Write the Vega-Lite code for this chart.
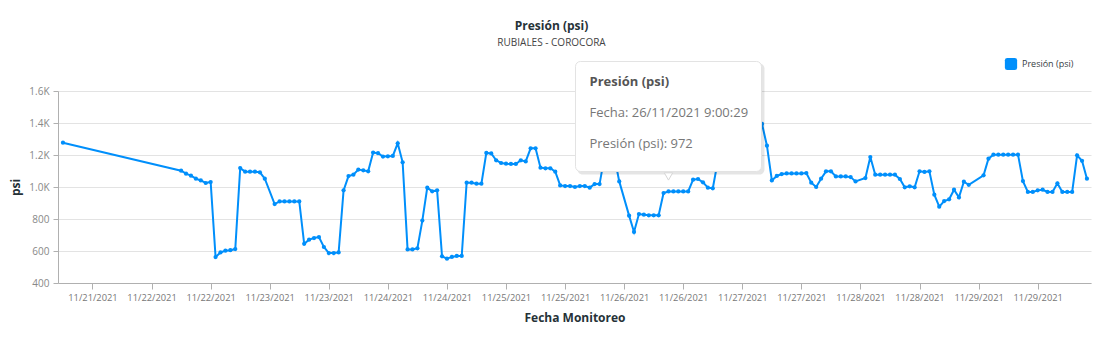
{
  "$schema": "https://vega.github.io/schema/vega-lite/v6.json",
  "width": 1033,
  "height": 192,
  "autosize": {"type": "none"},
  "padding": {"left": 58, "top": 91, "right": 10, "bottom": 78},
  "background": "white",
  "config": {
    "font": "Open Sans",
    "view": {"stroke": null}
  },
  "title": {
    "text": "Presión (psi)",
    "subtitle": "RUBIALES - COROCORA",
    "anchor": "middle",
    "dx": -23,
    "fontSize": 12,
    "fontWeight": "bold",
    "color": "#263238",
    "subtitleFontSize": 10,
    "subtitleColor": "#444444",
    "subtitlePadding": 5,
    "offset": 8
  },
  "data": {
    "values": [
      {"Fecha": "2021-11-21T06:00:29", "psi": 1277},
      {"Fecha": "2021-11-22T06:00:29", "psi": 1102},
      {"Fecha": "2021-11-22T07:00:29", "psi": 1083},
      {"Fecha": "2021-11-22T08:00:29", "psi": 1071},
      {"Fecha": "2021-11-22T09:00:29", "psi": 1052},
      {"Fecha": "2021-11-22T10:00:29", "psi": 1041},
      {"Fecha": "2021-11-22T11:00:29", "psi": 1025},
      {"Fecha": "2021-11-22T12:00:29", "psi": 1031},
      {"Fecha": "2021-11-22T13:00:29", "psi": 562},
      {"Fecha": "2021-11-22T14:00:29", "psi": 591},
      {"Fecha": "2021-11-22T15:00:29", "psi": 602},
      {"Fecha": "2021-11-22T16:00:29", "psi": 605},
      {"Fecha": "2021-11-22T17:00:29", "psi": 612},
      {"Fecha": "2021-11-22T18:00:29", "psi": 1118},
      {"Fecha": "2021-11-22T19:00:29", "psi": 1096},
      {"Fecha": "2021-11-22T20:00:29", "psi": 1096},
      {"Fecha": "2021-11-22T21:00:29", "psi": 1096},
      {"Fecha": "2021-11-22T22:00:29", "psi": 1092},
      {"Fecha": "2021-11-22T23:00:29", "psi": 1052},
      {"Fecha": "2021-11-23T01:00:29", "psi": 893},
      {"Fecha": "2021-11-23T02:00:29", "psi": 910},
      {"Fecha": "2021-11-23T03:00:29", "psi": 910},
      {"Fecha": "2021-11-23T04:00:29", "psi": 910},
      {"Fecha": "2021-11-23T05:00:29", "psi": 910},
      {"Fecha": "2021-11-23T06:00:29", "psi": 910},
      {"Fecha": "2021-11-23T07:00:29", "psi": 645},
      {"Fecha": "2021-11-23T08:00:29", "psi": 671},
      {"Fecha": "2021-11-23T09:00:29", "psi": 681},
      {"Fecha": "2021-11-23T10:00:29", "psi": 687},
      {"Fecha": "2021-11-23T11:00:29", "psi": 625},
      {"Fecha": "2021-11-23T12:00:29", "psi": 587},
      {"Fecha": "2021-11-23T13:00:29", "psi": 587},
      {"Fecha": "2021-11-23T14:00:29", "psi": 591},
      {"Fecha": "2021-11-23T15:00:29", "psi": 979},
      {"Fecha": "2021-11-23T16:00:29", "psi": 1068},
      {"Fecha": "2021-11-23T17:00:29", "psi": 1077},
      {"Fecha": "2021-11-23T18:00:29", "psi": 1109},
      {"Fecha": "2021-11-23T19:00:29", "psi": 1104},
      {"Fecha": "2021-11-23T20:00:29", "psi": 1098},
      {"Fecha": "2021-11-23T21:00:29", "psi": 1215},
      {"Fecha": "2021-11-23T22:00:29", "psi": 1211},
      {"Fecha": "2021-11-23T23:00:29", "psi": 1190},
      {"Fecha": "2021-11-24T00:00:29", "psi": 1192},
      {"Fecha": "2021-11-24T01:00:29", "psi": 1194},
      {"Fecha": "2021-11-24T02:00:29", "psi": 1273},
      {"Fecha": "2021-11-24T03:00:29", "psi": 1154},
      {"Fecha": "2021-11-24T04:00:29", "psi": 610},
      {"Fecha": "2021-11-24T05:00:29", "psi": 610},
      {"Fecha": "2021-11-24T06:00:29", "psi": 617},
      {"Fecha": "2021-11-24T07:00:29", "psi": 790},
      {"Fecha": "2021-11-24T08:00:29", "psi": 996},
      {"Fecha": "2021-11-24T09:00:29", "psi": 973},
      {"Fecha": "2021-11-24T10:00:29", "psi": 979},
      {"Fecha": "2021-11-24T11:00:29", "psi": 567},
      {"Fecha": "2021-11-24T12:00:29", "psi": 552},
      {"Fecha": "2021-11-24T13:00:29", "psi": 563},
      {"Fecha": "2021-11-24T14:00:29", "psi": 569},
      {"Fecha": "2021-11-24T15:00:29", "psi": 569},
      {"Fecha": "2021-11-24T16:00:29", "psi": 1027},
      {"Fecha": "2021-11-24T17:00:29", "psi": 1027},
      {"Fecha": "2021-11-24T18:00:29", "psi": 1021},
      {"Fecha": "2021-11-24T19:00:29", "psi": 1021},
      {"Fecha": "2021-11-24T20:00:29", "psi": 1213},
      {"Fecha": "2021-11-24T21:00:29", "psi": 1210},
      {"Fecha": "2021-11-24T22:00:29", "psi": 1167},
      {"Fecha": "2021-11-24T23:00:29", "psi": 1150},
      {"Fecha": "2021-11-25T00:00:29", "psi": 1146},
      {"Fecha": "2021-11-25T01:00:29", "psi": 1144},
      {"Fecha": "2021-11-25T02:00:29", "psi": 1144},
      {"Fecha": "2021-11-25T03:00:29", "psi": 1167},
      {"Fecha": "2021-11-25T04:00:29", "psi": 1160},
      {"Fecha": "2021-11-25T05:00:29", "psi": 1242},
      {"Fecha": "2021-11-25T06:00:29", "psi": 1242},
      {"Fecha": "2021-11-25T07:00:29", "psi": 1121},
      {"Fecha": "2021-11-25T08:00:29", "psi": 1117},
      {"Fecha": "2021-11-25T09:00:29", "psi": 1117},
      {"Fecha": "2021-11-25T10:00:29", "psi": 1096},
      {"Fecha": "2021-11-25T11:00:29", "psi": 1010},
      {"Fecha": "2021-11-25T12:00:29", "psi": 1006},
      {"Fecha": "2021-11-25T13:00:29", "psi": 1006},
      {"Fecha": "2021-11-25T14:00:29", "psi": 1000},
      {"Fecha": "2021-11-25T15:00:29", "psi": 1006},
      {"Fecha": "2021-11-25T16:00:29", "psi": 1006},
      {"Fecha": "2021-11-25T17:00:29", "psi": 996},
      {"Fecha": "2021-11-25T18:00:29", "psi": 1018},
      {"Fecha": "2021-11-25T19:00:29", "psi": 1018},
      {"Fecha": "2021-11-25T20:00:29", "psi": 1190},
      {"Fecha": "2021-11-25T21:00:29", "psi": 1210},
      {"Fecha": "2021-11-25T22:00:29", "psi": 1190},
      {"Fecha": "2021-11-25T23:00:29", "psi": 1035},
      {"Fecha": "2021-11-26T01:00:29", "psi": 821},
      {"Fecha": "2021-11-26T02:00:29", "psi": 719},
      {"Fecha": "2021-11-26T03:00:29", "psi": 831},
      {"Fecha": "2021-11-26T04:00:29", "psi": 827},
      {"Fecha": "2021-11-26T05:00:29", "psi": 823},
      {"Fecha": "2021-11-26T06:00:29", "psi": 823},
      {"Fecha": "2021-11-26T07:00:29", "psi": 823},
      {"Fecha": "2021-11-26T08:00:29", "psi": 962},
      {"Fecha": "2021-11-26T09:00:29", "psi": 972},
      {"Fecha": "2021-11-26T10:00:29", "psi": 972},
      {"Fecha": "2021-11-26T11:00:29", "psi": 972},
      {"Fecha": "2021-11-26T12:00:29", "psi": 972},
      {"Fecha": "2021-11-26T13:00:29", "psi": 972},
      {"Fecha": "2021-11-26T14:00:29", "psi": 1046},
      {"Fecha": "2021-11-26T15:00:29", "psi": 1050},
      {"Fecha": "2021-11-26T16:00:29", "psi": 1029},
      {"Fecha": "2021-11-26T17:00:29", "psi": 996},
      {"Fecha": "2021-11-26T18:00:29", "psi": 992},
      {"Fecha": "2021-11-26T19:00:29", "psi": 1160},
      {"Fecha": "2021-11-26T20:00:29", "psi": 1240},
      {"Fecha": "2021-11-26T21:00:29", "psi": 1300},
      {"Fecha": "2021-11-26T22:00:29", "psi": 1330},
      {"Fecha": "2021-11-26T23:00:29", "psi": 1350},
      {"Fecha": "2021-11-27T00:00:29", "psi": 1370},
      {"Fecha": "2021-11-27T01:00:29", "psi": 1390},
      {"Fecha": "2021-11-27T02:00:29", "psi": 1400},
      {"Fecha": "2021-11-27T03:00:29", "psi": 1410},
      {"Fecha": "2021-11-27T04:00:29", "psi": 1394},
      {"Fecha": "2021-11-27T05:00:29", "psi": 1258},
      {"Fecha": "2021-11-27T06:00:29", "psi": 1041},
      {"Fecha": "2021-11-27T07:00:29", "psi": 1069},
      {"Fecha": "2021-11-27T08:00:29", "psi": 1081},
      {"Fecha": "2021-11-27T09:00:29", "psi": 1085},
      {"Fecha": "2021-11-27T10:00:29", "psi": 1085},
      {"Fecha": "2021-11-27T11:00:29", "psi": 1085},
      {"Fecha": "2021-11-27T12:00:29", "psi": 1085},
      {"Fecha": "2021-11-27T13:00:29", "psi": 1087},
      {"Fecha": "2021-11-27T14:00:29", "psi": 1027},
      {"Fecha": "2021-11-27T15:00:29", "psi": 1000},
      {"Fecha": "2021-11-27T16:00:29", "psi": 1052},
      {"Fecha": "2021-11-27T17:00:29", "psi": 1098},
      {"Fecha": "2021-11-27T18:00:29", "psi": 1098},
      {"Fecha": "2021-11-27T19:00:29", "psi": 1066},
      {"Fecha": "2021-11-27T20:00:29", "psi": 1066},
      {"Fecha": "2021-11-27T21:00:29", "psi": 1066},
      {"Fecha": "2021-11-27T22:00:29", "psi": 1062},
      {"Fecha": "2021-11-27T23:00:29", "psi": 1035},
      {"Fecha": "2021-11-28T01:00:29", "psi": 1056},
      {"Fecha": "2021-11-28T02:00:29", "psi": 1187},
      {"Fecha": "2021-11-28T03:00:29", "psi": 1077},
      {"Fecha": "2021-11-28T04:00:29", "psi": 1077},
      {"Fecha": "2021-11-28T05:00:29", "psi": 1077},
      {"Fecha": "2021-11-28T06:00:29", "psi": 1077},
      {"Fecha": "2021-11-28T07:00:29", "psi": 1077},
      {"Fecha": "2021-11-28T08:00:29", "psi": 1050},
      {"Fecha": "2021-11-28T09:00:29", "psi": 998},
      {"Fecha": "2021-11-28T10:00:29", "psi": 1004},
      {"Fecha": "2021-11-28T11:00:29", "psi": 998},
      {"Fecha": "2021-11-28T12:00:29", "psi": 1098},
      {"Fecha": "2021-11-28T13:00:29", "psi": 1094},
      {"Fecha": "2021-11-28T14:00:29", "psi": 1098},
      {"Fecha": "2021-11-28T15:00:29", "psi": 952},
      {"Fecha": "2021-11-28T16:00:29", "psi": 877},
      {"Fecha": "2021-11-28T17:00:29", "psi": 912},
      {"Fecha": "2021-11-28T18:00:29", "psi": 923},
      {"Fecha": "2021-11-28T19:00:29", "psi": 983},
      {"Fecha": "2021-11-28T20:00:29", "psi": 935},
      {"Fecha": "2021-11-28T21:00:29", "psi": 1033},
      {"Fecha": "2021-11-28T22:00:29", "psi": 1014},
      {"Fecha": "2021-11-29T01:00:29", "psi": 1073},
      {"Fecha": "2021-11-29T02:00:29", "psi": 1177},
      {"Fecha": "2021-11-29T03:00:29", "psi": 1202},
      {"Fecha": "2021-11-29T04:00:29", "psi": 1202},
      {"Fecha": "2021-11-29T05:00:29", "psi": 1202},
      {"Fecha": "2021-11-29T06:00:29", "psi": 1202},
      {"Fecha": "2021-11-29T07:00:29", "psi": 1202},
      {"Fecha": "2021-11-29T08:00:29", "psi": 1202},
      {"Fecha": "2021-11-29T09:00:29", "psi": 1037},
      {"Fecha": "2021-11-29T10:00:29", "psi": 969},
      {"Fecha": "2021-11-29T11:00:29", "psi": 969},
      {"Fecha": "2021-11-29T12:00:29", "psi": 979},
      {"Fecha": "2021-11-29T13:00:29", "psi": 983},
      {"Fecha": "2021-11-29T14:00:29", "psi": 969},
      {"Fecha": "2021-11-29T15:00:29", "psi": 969},
      {"Fecha": "2021-11-29T16:00:29", "psi": 1023},
      {"Fecha": "2021-11-29T17:00:29", "psi": 969},
      {"Fecha": "2021-11-29T18:00:29", "psi": 969},
      {"Fecha": "2021-11-29T19:00:29", "psi": 969},
      {"Fecha": "2021-11-29T20:00:29", "psi": 1198},
      {"Fecha": "2021-11-29T21:00:29", "psi": 1164},
      {"Fecha": "2021-11-29T22:00:29", "psi": 1052}
    ]
  },
  "layer": [
    {
      "mark": {"type": "line", "color": "#008FFB", "strokeWidth": 2},
      "encoding": {
        "x": {
          "field": "Fecha",
          "type": "temporal",
          "scale": {
            "domain": [
              {"year": 2021, "month": 11, "date": 21, "hours": 5, "minutes": 0},
              {"year": 2021, "month": 11, "date": 29, "hours": 22, "minutes": 50}
            ],
            "nice": false
          },
          "axis": {
            "title": "Fecha Monitoreo",
            "titleFontSize": 12,
            "titleFontWeight": "bold",
            "titleColor": "#263238",
            "titlePadding": 10,
            "tickCount": 30,
            "values": [
              {"year": 2021, "month": 11, "date": 21, "hours": 12},
              {"year": 2021, "month": 11, "date": 22, "hours": 0},
              {"year": 2021, "month": 11, "date": 22, "hours": 12},
              {"year": 2021, "month": 11, "date": 23, "hours": 0},
              {"year": 2021, "month": 11, "date": 23, "hours": 12},
              {"year": 2021, "month": 11, "date": 24, "hours": 0},
              {"year": 2021, "month": 11, "date": 24, "hours": 12},
              {"year": 2021, "month": 11, "date": 25, "hours": 0},
              {"year": 2021, "month": 11, "date": 25, "hours": 12},
              {"year": 2021, "month": 11, "date": 26, "hours": 0},
              {"year": 2021, "month": 11, "date": 26, "hours": 12},
              {"year": 2021, "month": 11, "date": 27, "hours": 0},
              {"year": 2021, "month": 11, "date": 27, "hours": 12},
              {"year": 2021, "month": 11, "date": 28, "hours": 0},
              {"year": 2021, "month": 11, "date": 28, "hours": 12},
              {"year": 2021, "month": 11, "date": 29, "hours": 0},
              {"year": 2021, "month": 11, "date": 29, "hours": 12}
            ],
            "format": "%m/%d/%Y",
            "labelFontSize": 9.3,
            "labelColor": "#777777",
            "labelOverlap": false,
            "labelPadding": 4,
            "grid": false,
            "domainColor": "#b0b0b0",
            "tickColor": "#b0b0b0",
            "tickSize": 6
          }
        },
        "y": {
          "field": "psi",
          "type": "quantitative",
          "scale": {"domain": [400, 1600], "nice": false},
          "axis": {
            "title": "psi",
            "titleFontSize": 12,
            "titleFontWeight": "bold",
            "titleColor": "#263238",
            "titlePadding": 6,
            "tickCount": 10,
            "values": [400, 600, 800, 1000, 1200, 1400, 1600],
            "labelExpr": "datum.value >= 1000 ? format(datum.value / 1000, '.1f') + 'K' : format(datum.value, 'd')",
            "labelOverlap": false,
            "labelFontSize": 10,
            "labelColor": "#888888",
            "labelPadding": 4,
            "grid": true,
            "gridColor": "#e3e3e3",
            "domainColor": "#b0b0b0",
            "tickColor": "#b0b0b0",
            "tickSize": 5
          }
        }
      }
    },
    {
      "mark": {"type": "point", "filled": true, "opacity": 1, "size": 18},
      "encoding": {
        "x": {"field": "Fecha", "type": "temporal"},
        "y": {"field": "psi", "type": "quantitative"},
        "color": {
          "datum": "Presión (psi)",
          "type": "nominal",
          "scale": {"range": ["#008FFB"]},
          "legend": {
            "title": null,
            "orient": "none",
            "legendX": 946,
            "legendY": -34,
            "symbolType": "M -0.6,-1 L 0.6,-1 Q 1,-1 1,-0.6 L 1,0.6 Q 1,1 0.6,1 L -0.6,1 Q -1,1 -1,0.6 L -1,-0.6 Q -1,-1 -0.6,-1 Z",
            "symbolSize": 150,
            "labelFontSize": 9,
            "labelColor": "#373d3f"
          }
        }
      }
    },
    {
      "transform": [{"filter": "hours(datum.Fecha) === 9 && date(datum.Fecha) === 26"}],
      "mark": {"type": "rect", "fill": "#000000", "opacity": 0.1, "cornerRadius": 5, "xOffset": -91, "x2Offset": 96, "yOffset": -128, "y2Offset": -17},
      "encoding": {
        "x": {"field": "Fecha", "type": "temporal"},
        "x2": {"field": "Fecha"},
        "y": {"field": "psi", "type": "quantitative"},
        "y2": {"field": "psi"}
      }
    },
    {
      "transform": [{"filter": "hours(datum.Fecha) === 9 && date(datum.Fecha) === 26"}],
      "mark": {"type": "point", "shape": "triangle-down", "filled": true, "fill": "#ffffff", "stroke": "#d6d6d6", "strokeWidth": 1, "opacity": 1, "size": 70, "yOffset": -15},
      "encoding": {
        "x": {"field": "Fecha", "type": "temporal"},
        "y": {"field": "psi", "type": "quantitative"}
      }
    },
    {
      "transform": [{"filter": "hours(datum.Fecha) === 9 && date(datum.Fecha) === 26"}],
      "mark": {"type": "rect", "fill": "#ffffff", "stroke": "#e3e3e3", "strokeWidth": 1, "cornerRadius": 5, "xOffset": -93, "x2Offset": 93, "yOffset": -130, "y2Offset": -20},
      "encoding": {
        "x": {"field": "Fecha", "type": "temporal"},
        "x2": {"field": "Fecha"},
        "y": {"field": "psi", "type": "quantitative"},
        "y2": {"field": "psi"}
      }
    },
    {
      "transform": [{"filter": "hours(datum.Fecha) === 9 && date(datum.Fecha) === 26"}],
      "mark": {"type": "text", "text": "Presión (psi)", "align": "left", "baseline": "middle", "dx": -79, "dy": -109, "fontSize": 13, "fontWeight": "bold", "color": "#555555"},
      "encoding": {
        "x": {"field": "Fecha", "type": "temporal"},
        "y": {"field": "psi", "type": "quantitative"}
      }
    },
    {
      "transform": [{"filter": "hours(datum.Fecha) === 9 && date(datum.Fecha) === 26"}],
      "mark": {"type": "text", "text": "Fecha: 26/11/2021 9:00:29", "align": "left", "baseline": "middle", "dx": -79, "dy": -78, "fontSize": 13, "color": "#777777"},
      "encoding": {
        "x": {"field": "Fecha", "type": "temporal"},
        "y": {"field": "psi", "type": "quantitative"}
      }
    },
    {
      "transform": [{"filter": "hours(datum.Fecha) === 9 && date(datum.Fecha) === 26"}],
      "mark": {"type": "text", "text": "Presión (psi): 972", "align": "left", "baseline": "middle", "dx": -79, "dy": -47, "fontSize": 13, "color": "#777777"},
      "encoding": {
        "x": {"field": "Fecha", "type": "temporal"},
        "y": {"field": "psi", "type": "quantitative"}
      }
    }
  ]
}
